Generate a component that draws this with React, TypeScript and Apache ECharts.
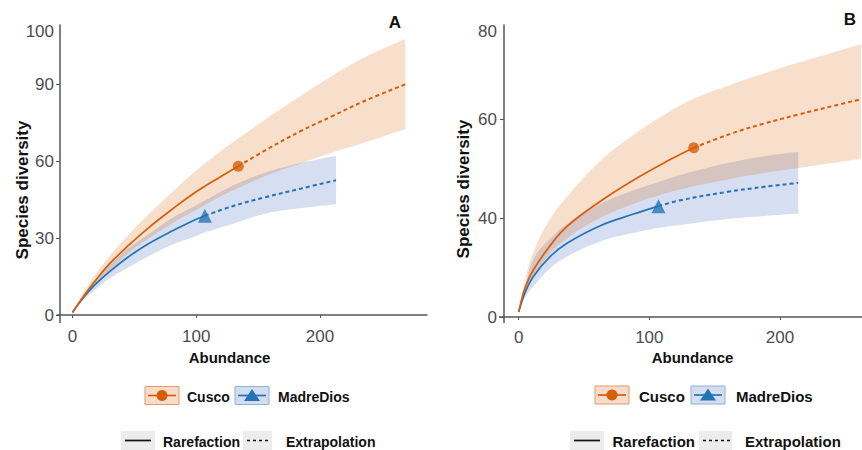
import React, { useEffect, useRef } from "react";
import * as echarts from "echarts";

// ---------- Panel A (species richness) ----------
const abundanceA_Cusco = [0, 10, 20, 30, 45, 60, 80, 100, 120, 134, 160, 185, 210, 235, 269];
const meanA_Cusco = [1, 8, 14.3, 20, 27, 33.4, 41, 48, 54, 58, 65.3, 71.8, 77.5, 83.2, 89.9];
const upperA_Cusco = [1, 9.6, 16.8, 22.9, 31.2, 38.5, 47.6, 56.3, 63.9, 68.8, 77.5, 85.6, 93.2, 100.1, 107.5];
const lowerA_Cusco = [1, 6.9, 12.4, 17.3, 24, 29.3, 35.6, 41, 46.3, 49.5, 54.9, 59.1, 63.3, 67, 72.5];

const abundanceA_Madre = [0, 10, 20, 30, 45, 60, 80, 100, 107, 130, 155, 185, 213];
const meanA_Madre = [1, 7.5, 12.6, 16.9, 22.6, 27.4, 32.6, 37.3, 38.7, 42.5, 45.8, 49.3, 52.5];
const upperA_Madre = [1, 8.5, 14.5, 19.5, 26, 31, 37.6, 42.8, 44.6, 50.5, 55.3, 59.3, 62.1];
const lowerA_Madre = [1, 6.3, 10.5, 14.2, 18.5, 22.5, 27.3, 30.8, 32.2, 35.6, 39.4, 41.7, 43.2];

// ---------- Panel B ----------
const abundanceB_Cusco = [0, 5, 11, 24, 37, 62, 88, 113, 134, 162, 188, 214, 240, 262];
const meanB_Cusco = [21, 26, 29.4, 34.4, 38.3, 43.3, 47.7, 51.4, 54.2, 57, 59.1, 60.9, 62.6, 64];
const upperB_Cusco = [21, 27.5, 33, 39.8, 44.3, 51.4, 56.8, 61.1, 64.1, 66.9, 69.2, 71.4, 73.4, 75.1];
const lowerB_Cusco = [21, 25, 28.1, 32.8, 35.9, 40, 42.9, 45, 46.4, 47.9, 49.1, 50.1, 51.1, 52];

const abundanceB_Madre = [0, 5, 11, 24, 37, 62, 88, 107, 124, 160, 188, 214];
const meanB_Madre = [21, 25, 28.1, 32.2, 34.9, 38.4, 40.8, 42.4, 43.6, 45.3, 46.3, 47.1];
const upperB_Madre = [21, 26, 31.5, 35.8, 38.8, 42.8, 45.6, 47.3, 48.7, 51.1, 52.5, 53.4];
const lowerB_Madre = [21, 24, 26.1, 29.8, 32.2, 35.2, 37, 38, 38.6, 39.8, 40.4, 40.9];

// observed sample sizes (reference samples)
const obsN_Cusco = 134;
const obsN_Madre = 107;

// ---------- Axis ticks / labels ----------
const xTickValues = [0, 100, 200];
const xTickLabels = ["0", "100", "200"];
const yTickValuesA = [0, 30, 60, 90];
const yLabelValuesA = [0, 30, 60, 90, 110.6];
const yLabelTextsA = ["0", "30", "60", "90", "100"];
const yTickValuesB = [20, 40, 60];
const yLabelValuesB = [20, 40, 60, 77.6];
const yLabelTextsB = ["0", "40", "60", "80"];

const siteNames = ["Cusco", "MadreDios"];
const methodNames = ["Rarefaction", "Extrapolation"];

const ORANGE = "#d55e0a";
const BLUE = "#2474b5";
const ORANGE_BAND = "rgba(213,94,0,0.2)";
const BLUE_BAND = "rgba(50,90,185,0.2)";
const FONT = "'Liberation Sans', Arial, Helvetica, sans-serif";
const AXIS_COLOR = "#555";

function pickLabel(values: number[], texts: string[]) {
  return (v: number) => {
    for (let i = 0; i < values.length; i++) {
      if (Math.abs(values[i] - v) < 1e-6) return texts[i];
    }
    return "";
  };
}

function siteSeries(
  idx: number,
  key: string,
  xs: number[],
  mean: number[],
  lo: number[],
  up: number[],
  obsN: number,
  color: string,
  band: string,
  symbol: string,
  symbolSize: number
) {
  const common = {
    xAxisIndex: idx,
    yAxisIndex: idx,
    symbol: "none",
    silent: true,
    smooth: 0.4,
  };
  const rare = xs.map((x, i) => [x, mean[i]]).filter((p) => p[0] <= obsN);
  const ext = xs.map((x, i) => [x, mean[i]]).filter((p) => p[0] >= obsN);
  const obsIdx = xs.indexOf(obsN);
  // band: data stored as [y, x] so that the stacked dimension is y
  const bandCommon = { ...common, encode: { x: 1, y: 0 }, stack: key + "-band", stackStrategy: "all" };
  const bandSeries = [
    {
      ...bandCommon,
      type: "line",
      name: key + "-lo",
      data: xs.map((x, i) => [lo[i], x]),
      lineStyle: { opacity: 0, width: 0 },
    },
    {
      ...bandCommon,
      type: "line",
      name: key + "-band",
      data: xs.map((x, i) => [+(up[i] - lo[i]).toFixed(3), x]),
      lineStyle: { opacity: 0, width: 0 },
      areaStyle: { color: band, opacity: 1 },
    },
  ];
  const lineSeries = [
    {
      ...common,
      type: "line",
      name: key + "-rare",
      data: rare,
      z: 3,
      lineStyle: { color, width: 1.7 },
    },
    {
      ...common,
      type: "line",
      name: key + "-ext",
      data: ext,
      z: 3,
      lineStyle: { color, width: 2, type: [4, 3] },
    },
    {
      type: "scatter",
      xAxisIndex: idx,
      yAxisIndex: idx,
      silent: true,
      z: 4,
      symbol,
      symbolSize,
      itemStyle: { color },
      data: [[xs[obsIdx], mean[obsIdx]]],
    },
  ];
  return { bandSeries, lineSeries };
}

function legendGroup(o: {
  r1y: number;
  r2y: number;
  k1x: number;
  t1x: number;
  k2x: number;
  t2x: number;
  k3x: number;
  t3x: number;
  k4x: number;
  k4w: number;
  t4x: number;
  fs: number;
}) {
  const els: any[] = [];
  const kh = 18;
  const kw = 34;
  const textStyle = (x: number, y: number, t: string) => ({
    type: "text",
    x,
    y,
    style: {
      text: t,
      font: `bold ${o.fs}px ${FONT}`,
      fill: "#111",
      textVerticalAlign: "middle",
      textAlign: "left",
    },
  });
  els.push({ type: "rect", shape: { x: o.k1x, y: o.r1y - kh / 2, width: kw, height: kh }, style: { fill: "#f8dccb", stroke: "#e59a68", lineWidth: 1 } });
  els.push({ type: "line", shape: { x1: o.k1x + 3, y1: o.r1y, x2: o.k1x + kw - 3, y2: o.r1y }, style: { stroke: ORANGE, lineWidth: 1.7 } });
  els.push({ type: "circle", shape: { cx: o.k1x + kw / 2, cy: o.r1y, r: 5.5 }, style: { fill: ORANGE } });
  els.push(textStyle(o.t1x, o.r1y + 1, siteNames[0]));
  els.push({ type: "rect", shape: { x: o.k2x, y: o.r1y - kh / 2, width: kw, height: kh }, style: { fill: "#d3ddef", stroke: "#8fb0d8", lineWidth: 1 } });
  els.push({ type: "line", shape: { x1: o.k2x + 3, y1: o.r1y, x2: o.k2x + kw - 3, y2: o.r1y }, style: { stroke: BLUE, lineWidth: 1.7 } });
  const cx = o.k2x + kw / 2;
  els.push({
    type: "polygon",
    shape: { points: [[cx, o.r1y - 6.5], [cx + 8, o.r1y + 5.5], [cx - 8, o.r1y + 5.5]] },
    style: { fill: BLUE },
  });
  els.push(textStyle(o.t2x, o.r1y + 1, siteNames[1]));
  els.push({ type: "rect", shape: { x: o.k3x, y: o.r2y - 9.5, width: kw, height: 19 }, style: { fill: "#ececec" } });
  els.push({ type: "line", shape: { x1: o.k3x + 4, y1: o.r2y, x2: o.k3x + kw - 4, y2: o.r2y }, style: { stroke: "#111", lineWidth: 1.7 } });
  els.push(textStyle(o.t3x, o.r2y + 1, methodNames[0]));
  els.push({ type: "rect", shape: { x: o.k4x, y: o.r2y - 9.5, width: o.k4w, height: 19 }, style: { fill: "#ececec" } });
  els.push({ type: "line", shape: { x1: o.k4x + 4, y1: o.r2y, x2: o.k4x + o.k4w - 2, y2: o.r2y }, style: { stroke: "#111", lineWidth: 1.5, lineDash: [3, 3] } });
  els.push(textStyle(o.t4x, o.r2y + 1, methodNames[1]));
  return els;
}

function titleText(x: number, y: number, t: string, size: number, rotate = false) {
  return {
    type: "text",
    x,
    y,
    rotation: rotate ? Math.PI / 2 : 0,
    style: {
      text: t,
      font: `bold ${size}px ${FONT}`,
      fill: "#111",
      textAlign: "center",
      textVerticalAlign: "middle",
    },
  };
}

function buildOption() {
  const cA = siteSeries(0, "A-Cusco", abundanceA_Cusco, meanA_Cusco, lowerA_Cusco, upperA_Cusco, obsN_Cusco, ORANGE, ORANGE_BAND, "circle", 11);
  const mA = siteSeries(0, "A-Madre", abundanceA_Madre, meanA_Madre, lowerA_Madre, upperA_Madre, obsN_Madre, BLUE, BLUE_BAND, "triangle", 14);
  const cB = siteSeries(1, "B-Cusco", abundanceB_Cusco, meanB_Cusco, lowerB_Cusco, upperB_Cusco, obsN_Cusco, ORANGE, ORANGE_BAND, "circle", 11);
  const mB = siteSeries(1, "B-Madre", abundanceB_Madre, meanB_Madre, lowerB_Madre, upperB_Madre, obsN_Madre, BLUE, BLUE_BAND, "triangle", 14);

  const axisLine = { show: true, onZero: false, lineStyle: { color: AXIS_COLOR, width: 1.5 } };
  const tickStyle = { color: AXIS_COLOR, width: 1 };

  const xAxisCfg = (gridIndex: number, min: number, max: number, margin: number) => ({
    type: "value",
    gridIndex,
    min,
    max,
    axisLine,
    splitLine: { show: false },
    axisTick: { show: true, length: 3, customValues: xTickValues, lineStyle: tickStyle },
    axisLabel: {
      customValues: xTickValues,
      formatter: pickLabel(xTickValues, xTickLabels),
      color: "#4d4d4d",
      fontSize: 17,
      fontFamily: FONT,
      margin,
    },
  });
  const yAxisCfg = (gridIndex: number, min: number, max: number, ticks: number[], lv: number[], lt: string[], margin: number) => ({
    type: "value",
    gridIndex,
    min,
    max,
    axisLine,
    splitLine: { show: false },
    axisTick: { show: true, length: 4, customValues: ticks, lineStyle: tickStyle },
    axisLabel: {
      customValues: lv,
      formatter: pickLabel(lv, lt),
      color: "#4d4d4d",
      fontSize: 17,
      fontFamily: FONT,
      margin,
    },
  });

  const graphic: any[] = [
    { type: "line", shape: { x1: 60, y1: 315, x2: 60, y2: 323 }, style: { stroke: AXIS_COLOR, lineWidth: 1.5 } },
    { type: "line", shape: { x1: 56.5, y1: 315, x2: 60, y2: 315 }, style: { stroke: AXIS_COLOR, lineWidth: 1.5 } },
    { type: "line", shape: { x1: 504, y1: 317, x2: 504, y2: 323 }, style: { stroke: AXIS_COLOR, lineWidth: 1.5 } },
    { type: "line", shape: { x1: 499, y1: 317, x2: 504, y2: 317 }, style: { stroke: AXIS_COLOR, lineWidth: 1.5 } },
    titleText(229.5, 357, "Abundance", 15),
    titleText(692.5, 357, "Abundance", 15),
    titleText(22, 190, "Species diversity", 17, true),
    titleText(463.5, 189, "Species diversity", 17, true),
    titleText(395, 22.5, "A", 17),
    titleText(850, 19, "B", 17),
    ...legendGroup({ r1y: 395.5, r2y: 440.5, k1x: 145, t1x: 187, k2x: 235, t2x: 278, k3x: 121, t3x: 163, k4x: 243, k4w: 29, t4x: 286, fs: 14 }),
    ...legendGroup({ r1y: 395, r2y: 440.5, k1x: 595, t1x: 639, k2x: 691, t2x: 736, k3x: 570, t3x: 612.5, k4x: 699, k4w: 33, t4x: 745, fs: 15 }),
  ];

  return {
    animation: false,
    backgroundColor: "#ffffff",
    grid: [
      { left: 60, top: 25, width: 367, height: 290, containLabel: false },
      { left: 504, top: 25, width: 358, height: 292, containLabel: false },
    ],
    xAxis: [xAxisCfg(0, -10.1, 286.5, 13), xAxisCfg(1, -11.25, 262.8, 12)],
    yAxis: [
      yAxisCfg(0, 0, 113, yTickValuesA, yLabelValuesA, yLabelTextsA, 6),
      yAxisCfg(1, 20, 79, yTickValuesB, yLabelValuesB, yLabelTextsB, 7),
    ],
    series: [
      ...mA.bandSeries,
      ...cA.bandSeries,
      ...mB.bandSeries,
      ...cB.bandSeries,
      ...mA.lineSeries,
      ...cA.lineSeries,
      ...mB.lineSeries,
      ...cB.lineSeries,
    ],
    graphic,
  };
}

export default function App() {
  const ref = useRef<HTMLDivElement>(null);
  useEffect(() => {
    document.body.style.margin = "0";
    if (!ref.current) return;
    const chart = echarts.init(ref.current, undefined, { renderer: "svg" });
    chart.setOption(buildOption() as any);
    return () => {
      chart.dispose();
    };
  }, []);
  return <div ref={ref} style={{ width: 862, height: 450 }} />;
}
